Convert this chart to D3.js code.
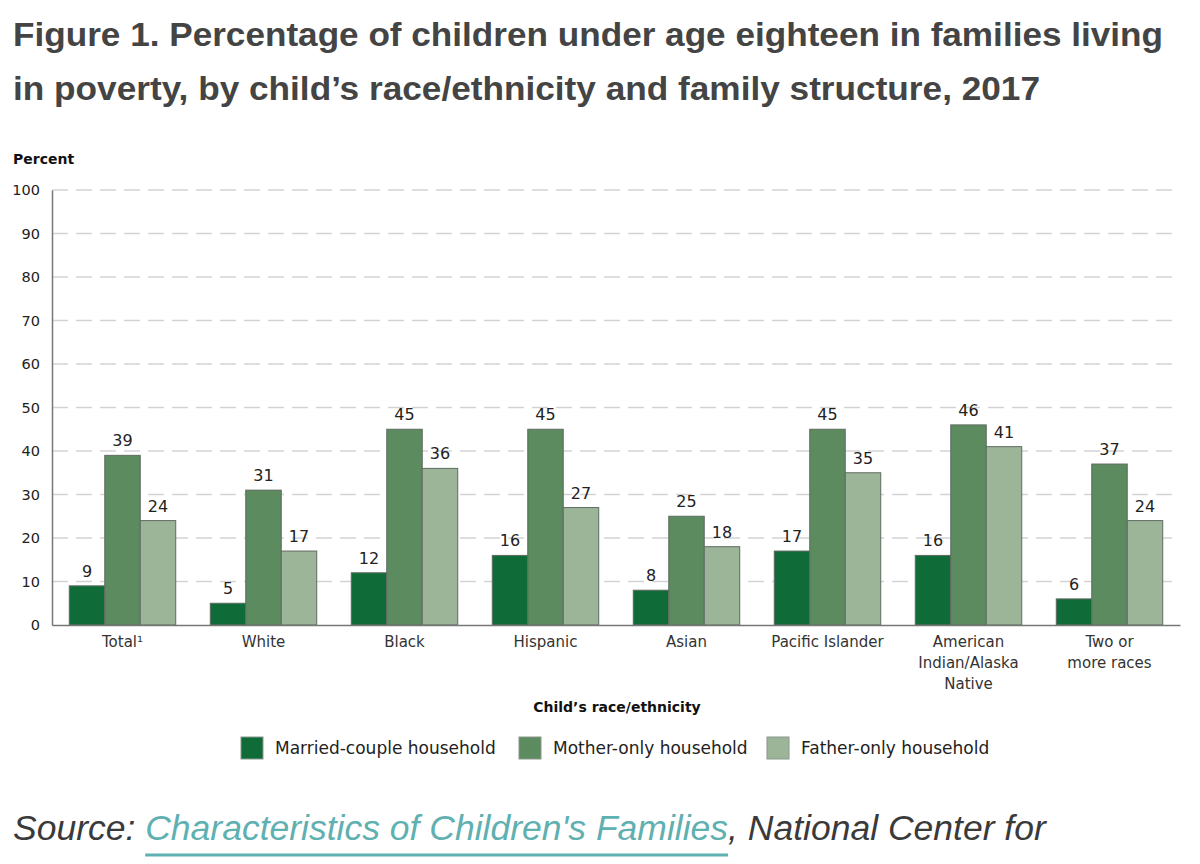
<!DOCTYPE html>
<html>
<head>
<meta charset="utf-8">
<script src="https://cdn.jsdelivr.net/npm/d3@7"></script>
<style>
  body { margin: 0; background: #fff; }
  svg { display: block; }
</style>
</head>
<body>
<div class="chart"></div>
<script>
const categories = [
  ["Total\u00b9"],
  ["White"],
  ["Black"],
  ["Hispanic"],
  ["Asian"],
  ["Pacific Islander"],
  ["American", "Indian/Alaska", "Native"],
  ["Two or", "more races"],
];
const series = ["Married-couple household", "Mother-only household", "Father-only household"];
const married = [9, 5, 12, 16, 8, 17, 16, 6];
const motherOnly = [39, 31, 45, 45, 25, 45, 46, 37];
const fatherOnly = [24, 17, 36, 27, 18, 35, 41, 24];
const yTicks = [0, 10, 20, 30, 40, 50, 60, 70, 80, 90, 100];
const colors = ["#0f6b37", "#5b8b5f", "#9cb598"];

const width = 1200, height = 864;
const margin = { top: 190, right: 20, bottom: 239, left: 52 };
const chartFont = "'DejaVu Sans', sans-serif";

const svg = d3.select(".chart").append("svg")
  .attr("width", width)
  .attr("height", height);

// title
const title = svg.append("g")
  .attr("font-family", "'Liberation Sans', Arial, sans-serif")
  .attr("font-weight", "bold")
  .attr("font-size", 33)
  .attr("fill", "#444");
title.append("text").attr("x", 13).attr("y", 46)
  .attr("textLength", 1150).attr("lengthAdjust", "spacingAndGlyphs")
  .text("Figure 1. Percentage of children under age eighteen in families living");
title.append("text").attr("x", 13).attr("y", 100)
  .attr("textLength", 1027).attr("lengthAdjust", "spacingAndGlyphs")
  .text("in poverty, by child\u2019s race/ethnicity and family structure, 2017");

const rows = categories.map((c, i) => ({
  label: c,
  values: [married[i], motherOnly[i], fatherOnly[i]],
}));

const x0 = d3.scaleBand()
  .domain(d3.range(categories.length))
  .range([margin.left, width - margin.right])
  .paddingInner(0.245)
  .paddingOuter(0.1225);
const x1 = d3.scaleBand()
  .domain(d3.range(series.length))
  .range([0, x0.bandwidth()]);
const y = d3.scaleLinear()
  .domain([0, 100])
  .range([height - margin.bottom, margin.top]);

// gridlines
svg.append("g")
  .selectAll("line")
  .data(yTicks.filter((d) => d > 0))
  .join("line")
  .attr("x1", margin.left)
  .attr("x2", width - margin.right)
  .attr("y1", (d) => y(d))
  .attr("y2", (d) => y(d))
  .attr("stroke", "#d3d3d6")
  .attr("stroke-width", 1.5)
  .attr("stroke-dasharray", "16 8");

// y axis
const yAxis = svg.append("g")
  .attr("transform", `translate(${margin.left},0)`)
  .call(d3.axisLeft(y).tickValues(yTicks).tickSize(0).tickPadding(12));
yAxis.select(".domain").attr("stroke", "#777").attr("stroke-width", 1.5);
yAxis.selectAll(".tick text")
  .attr("font-family", chartFont)
  .attr("font-size", 14.5)
  .attr("fill", "#222");

svg.append("text")
  .attr("x", 13).attr("y", 164)
  .attr("font-family", chartFont)
  .attr("font-weight", "bold")
  .attr("font-size", 14)
  .attr("fill", "#111")
  .text("Percent");

// bars
const groups = svg.append("g")
  .selectAll("g")
  .data(rows)
  .join("g")
  .attr("transform", (d, i) => `translate(${x0(i)},0)`);

groups.selectAll("rect")
  .data((d) => d.values)
  .join("rect")
  .attr("x", (d, j) => x1(j))
  .attr("y", (d) => y(d))
  .attr("width", x1.bandwidth())
  .attr("height", (d) => y(0) - y(d))
  .attr("fill", (d, j) => colors[j])
  .attr("stroke", "#5f6b60")
  .attr("stroke-width", 1);

groups.selectAll("text.val")
  .data((d) => d.values)
  .join("text")
  .attr("class", "val")
  .attr("x", (d, j) => x1(j) + x1.bandwidth() / 2)
  .attr("y", (d) => y(d) - 9)
  .attr("text-anchor", "middle")
  .attr("font-family", chartFont)
  .attr("font-size", 16)
  .attr("fill", "#222")
  .text((d) => d);

// x axis
const xAxis = svg.append("g")
  .attr("transform", `translate(0,${y(0)})`)
  .call(d3.axisBottom(x0).tickSize(0).tickFormat(() => ""));
xAxis.select(".domain").attr("stroke", "#777").attr("stroke-width", 1.5);

xAxis.selectAll(".tick text")
  .attr("font-family", chartFont)
  .attr("font-size", 15)
  .attr("fill", "#333")
  .attr("y", 22)
  .each(function (i) {
    const t = d3.select(this);
    categories[i].forEach((line, k) => {
      t.append("tspan")
        .attr("x", 0)
        .attr("dy", k === 0 ? 0 : 21)
        .text(line);
    });
  });

svg.append("text")
  .attr("x", 617)
  .attr("y", 712)
  .attr("text-anchor", "middle")
  .attr("font-family", chartFont)
  .attr("font-weight", "bold")
  .attr("font-size", 14)
  .attr("fill", "#111")
  .text("Child\u2019s race/ethnicity");

// legend
const legendX = [241, 519, 767];
const legend = svg.append("g")
  .selectAll("g")
  .data(series)
  .join("g")
  .attr("transform", (d, i) => `translate(${legendX[i]},737)`);
legend.append("rect")
  .attr("width", 22).attr("height", 22)
  .attr("fill", (d, i) => colors[i])
  .attr("stroke", "#8a968b")
  .attr("stroke-width", 1);
legend.append("text")
  .attr("x", 34).attr("y", 17)
  .attr("font-family", chartFont)
  .attr("font-size", 17)
  .attr("fill", "#222")
  .text((d) => d);

// source
const linkText = "Characteristics of Children's Families";
const src = svg.append("text")
  .attr("x", 13).attr("y", 840)
  .attr("font-family", "'Liberation Sans', Arial, sans-serif")
  .attr("font-style", "italic")
  .attr("font-size", 35.5)
  .attr("fill", "#3a3a3a");
src.append("tspan").text("Source: ");
src.append("tspan").attr("fill", "#5fb0b0").text(linkText);
src.append("tspan").text(", National Center for");

const node = src.node();
const x1Link = node.getStartPositionOfChar(8).x;
const x2Link = node.getEndPositionOfChar(8 + linkText.length - 1).x;
svg.append("line")
  .attr("x1", x1Link).attr("x2", x2Link)
  .attr("y1", 855).attr("y2", 855)
  .attr("stroke", "#5fb0b0")
  .attr("stroke-width", 3);
</script>
</body>
</html>
